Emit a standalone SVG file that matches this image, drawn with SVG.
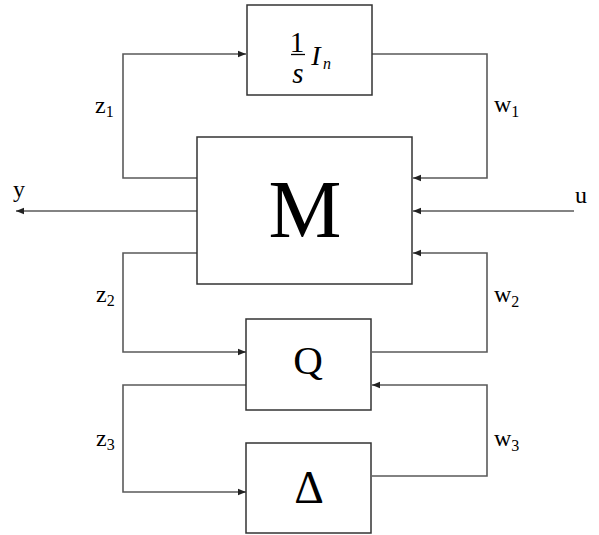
<svg xmlns="http://www.w3.org/2000/svg" width="599" height="535" viewBox="0 0 599 535">
<style>
.box{fill:#fff;stroke:#333;stroke-width:1.5}
.wire{fill:none;stroke:#5a5a5a;stroke-width:1.6}
.lbl{font-family:"Liberation Serif",serif;font-size:24px;fill:#000}
.sub{font-size:16px}
.big{font-family:"Liberation Serif",serif;fill:#000;text-anchor:middle}
</style>
<defs>
<marker id="ah" viewBox="0 0 10 10" refX="10" refY="5" markerWidth="8" markerHeight="8" markerUnits="userSpaceOnUse" orient="auto">
<path d="M0,1 L10,5 L0,9 Z" fill="#222"/>
</marker>
</defs>
<g id="connectors">
<polyline class="wire" points="197,178 123,178 123,54 246,54" marker-end="url(#ah)"/>
<polyline class="wire" points="372,54 487,54 487,178 413,178" marker-end="url(#ah)"/>
<polyline class="wire" points="197,211 16,211" marker-end="url(#ah)"/>
<polyline class="wire" points="574,211 413,211" marker-end="url(#ah)"/>
<polyline class="wire" points="197,253 123,253 123,352 246,352" marker-end="url(#ah)"/>
<polyline class="wire" points="372,352 487,352 487,253 413,253" marker-end="url(#ah)"/>
<polyline class="wire" points="246,385 123,385 123,492 246,492" marker-end="url(#ah)"/>
<polyline class="wire" points="372,476 487,476 487,385 372,385" marker-end="url(#ah)"/>
</g>
<g id="integrator">
<rect class="box" x="247" y="5" width="125" height="90"/>
<text class="big" x="297" y="52" font-size="29">1</text>
<line x1="291" y1="54.5" x2="305" y2="54.5" stroke="#000" stroke-width="1.3"/>
<text class="big" x="298" y="83" font-size="29" font-style="italic">s</text>
<text class="big" x="316" y="65" font-size="28" font-style="italic">I</text>
<text class="big" x="327" y="69" font-size="16" font-style="italic">n</text>
</g>
<g id="M">
<rect class="box" x="197" y="137" width="215" height="147"/>
<text class="big" x="305" y="237" font-size="82">M</text>
</g>
<g id="Q">
<rect class="box" x="246" y="319" width="125" height="91"/>
<text class="big" x="308" y="374" font-size="41">Q</text>
</g>
<g id="Delta">
<rect class="box" x="246" y="443" width="125" height="90"/>
<text class="big" x="309" y="503" font-size="46">Δ</text>
</g>
<g id="labels">
<text class="lbl" x="95" y="113">z<tspan class="sub" dy="4">1</tspan></text>
<text class="lbl" x="494" y="112">w<tspan class="sub" dy="5">1</tspan></text>
<text class="lbl" x="96" y="302">z<tspan class="sub" dy="4">2</tspan></text>
<text class="lbl" x="494" y="302">w<tspan class="sub" dy="5">2</tspan></text>
<text class="lbl" x="96" y="446">z<tspan class="sub" dy="4">3</tspan></text>
<text class="lbl" x="494" y="446">w<tspan class="sub" dy="5">3</tspan></text>
<text class="lbl" x="13" y="197">y</text>
<text class="lbl" x="575" y="203">u</text>
</g>
</svg>
